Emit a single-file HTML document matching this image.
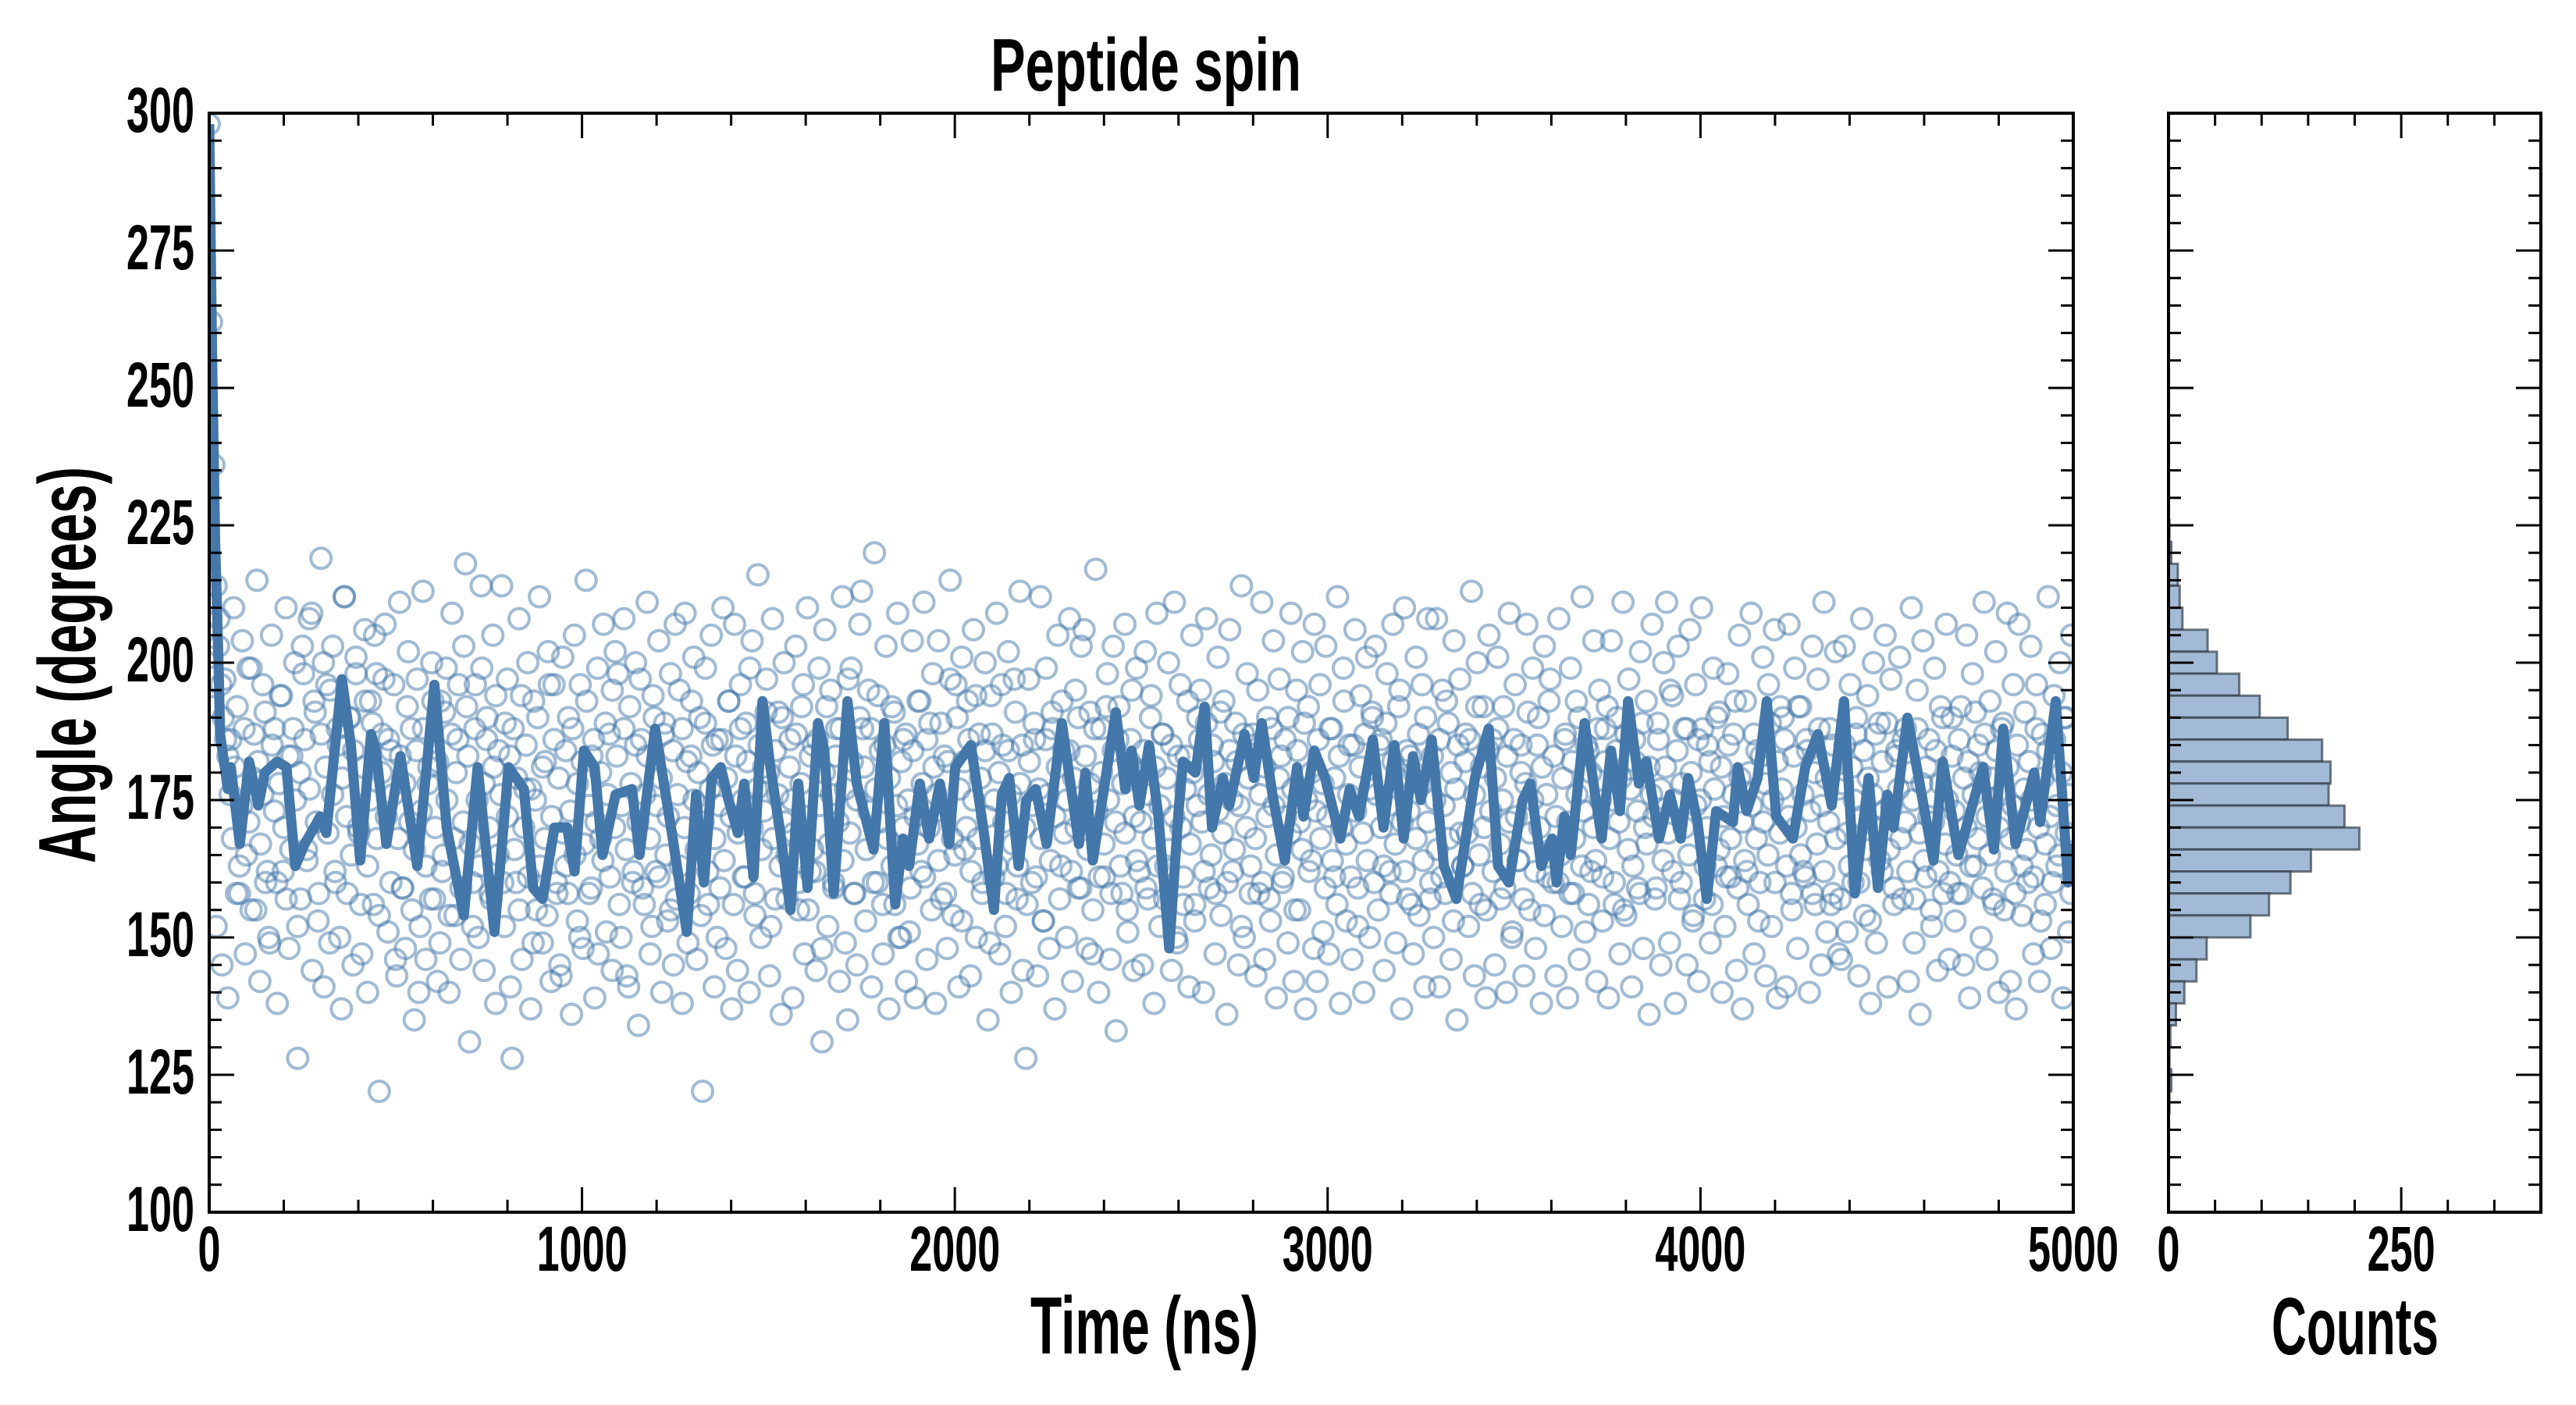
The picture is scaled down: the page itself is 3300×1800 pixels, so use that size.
<!DOCTYPE html>
<html><head><meta charset="utf-8"><style>
html,body{margin:0;padding:0;background:#fff;}
svg{display:block;}
text{font-family:"Liberation Sans Narrow","Liberation Sans",sans-serif;font-weight:bold;fill:#000;}
</style></head><body>
<svg id="chart" width="3300" height="1800" viewBox="0 0 3300 1800" xmlns="http://www.w3.org/2000/svg">
<rect width="3300" height="1800" fill="#fff"/>
<g id="main-marks"></g>
<g id="hist-marks"></g>
<g id="axes"></g>
<text x="1468" y="116" font-size="96" text-anchor="middle" textLength="398" lengthAdjust="spacingAndGlyphs">Peptide spin</text>
<text x="1466" y="1734" font-size="104" text-anchor="middle" textLength="292" lengthAdjust="spacingAndGlyphs">Time (ns)</text>
<text x="3017" y="1735" font-size="104" text-anchor="middle" textLength="214" lengthAdjust="spacingAndGlyphs">Counts</text>
<text x="0" y="0" font-size="104" text-anchor="middle" textLength="508" lengthAdjust="spacingAndGlyphs" transform="translate(122,852) rotate(-90)">Angle (degrees)</text>
</svg>
<script>
// ---- data ----
const scatterStep = 6.25;
const scatterValues = [
298,262,236,214,203,196,190,186,183,176,168,181,192,158,174,188,165,171,199,179,
155,182,167,176,191,162,149,185,173,160,178,194,170,157,183,166,188,175,152,180,
203,186,164,177,209,193,171,158,187,200,181,169,195,176,162,188,150,179,212,172,
190,165,184,198,170,156,181,193,163,175,189,205,168,154,180,197,172,186,160,176,
146,168,183,159,178,192,171,155,166,184,140,173,188,163,178,157,193,170,182,149,
162,191,175,154,187,168,180,196,159,171,218,183,167,152,188,175,163,199,178,186,
170,157,181,194,165,176,160,189,172,183,128,166,179,155,194,170,185,161,177,149,
175,190,163,181,168,154,196,172,186,160,179,143,169,184,158,173,188,165,178,150,
182,167,193,174,159,186,171,147,180,164,189,176,161,195,170,183,156,174,188,166,
141,178,162,185,171,197,159,176,183,168,152,190,174,161,179,187,165,172,155,184,
207,176,163,188,170,182,158,193,175,166,180,154,171,189,162,177,185,168,150,174,
186,164,179,193,172,156,183,169,188,175,161,182,199,170,158,177,185,166,173,191,
180,152,168,184,176,163,190,171,157,181,175,169,187,160,178,196,172,155,183,166,
162,186,174,148,180,192,167,176,159,183,171,188,164,177,135,169,182,158,175,190,
213,181,166,173,188,160,177,194,171,156,185,168,179,163,191,174,150,182,170,187,
175,159,184,172,167,193,178,161,186,170,155,181,176,164,189,173,158,182,197,168,
165,190,177,153,182,170,186,162,175,194,168,179,160,184,172,149,187,175,163,180,
196,171,158,184,176,167,191,163,178,185,170,156,182,174,189,161,177,168,153,186,
176,164,188,172,181,157,193,169,175,184,162,179,170,190,159,174,183,166,178,147,
188,173,161,180,167,192,175,158,184,171,186,163,178,169,155,182,195,172,164,180,
171,184,159,176,190,168,181,163,174,187,157,179,166,185,172,150,183,170,161,177,
193,167,180,156,174,186,171,162,189,176,165,182,158,173,191,169,178,160,184,175,
166,182,174,152,187,170,179,163,185,168,195,176,160,181,172,157,188,174,165,179,
183,161,172,190,169,177,155,184,171,166,189,175,162,180,148,173,186,168,178,159,
172,188,164,179,156,183,170,193,167,176,161,185,173,152,181,169,187,164,177,191,
160,176,185,170,163,189,174,158,182,167,179,195,171,162,184,173,156,180,168,187,
178,164,190,171,157,183,175,166,186,161,174,193,168,180,153,177,185,169,163,182,
169,186,158,176,192,165,181,170,155,184,173,162,179,188,167,175,159,183,171,150,
186,172,164,180,157,178,191,169,175,162,185,170,181,154,176,193,166,183,172,160,
165,179,187,171,158,182,168,176,190,163,173,185,156,180,170,164,188,175,161,182,
192,168,175,160,184,171,179,155,187,166,177,163,182,173,158,189,170,167,181,176,
172,159,186,177,164,181,169,195,162,175,184,157,178,170,188,165,180,154,174,186,
175,188,163,170,182,156,177,190,166,181,172,161,185,168,176,193,159,179,171,164,
162,180,174,187,168,153,183,171,178,165,189,175,160,182,169,177,186,163,172,158,
183,170,192,165,176,161,184,173,158,180,167,188,174,162,179,171,156,185,168,177,
157,178,185,169,163,181,175,190,160,172,184,166,179,153,176,187,170,164,182,173,
189,166,174,159,183,177,168,186,171,162,180,175,157,188,169,178,164,181,172,155,
171,184,162,178,190,167,175,160,183,173,165,186,158,179,170,182,163,176,191,168,
180,159,187,172,165,179,156,184,170,176,189,162,181,168,174,158,185,171,163,177,
166,182,175,161,188,170,153,179,167,184,172,160,186,174,165,180,190,169,176,158
];
const scatterStepB = 7.8125;
const scatterValuesB = [
201,192,152,208,145,197,139,186,210,158,163,204,147,199,155,187,215,142,196,160,
150,205,188,138,194,162,210,148,183,200,128,157,198,166,208,144,191,153,219,141,
196,149,203,160,185,137,212,158,190,145,201,169,147,206,140,193,156,198,122,187,
207,151,184,196,143,211,159,148,202,188,135,197,152,213,146,181,200,157,142,193,
165,199,140,209,154,186,146,203,192,131,160,196,150,214,144,190,158,205,138,184,
214,152,197,141,188,160,208,146,177,200,137,193,155,212,149,182,202,142,196,158,
145,201,163,190,136,205,153,196,148,215,158,183,139,199,168,207,151,187,144,202,
198,150,208,143,192,160,200,134,186,156,211,147,194,162,204,140,189,153,198,145,
157,195,138,209,149,183,201,146,190,122,199,156,205,141,186,159,210,148,193,137,
207,144,196,161,189,140,204,154,216,150,181,197,143,208,157,191,136,200,165,186,
139,203,155,192,147,210,162,185,144,199,131,206,152,195,160,188,142,212,149,197,
199,158,145,207,188,153,195,141,220,160,184,147,203,137,192,156,209,150,186,142,
151,204,139,193,162,211,146,189,198,138,204,157,183,148,215,154,196,141,201,166,
193,143,206,150,187,158,200,135,194,161,209,147,185,152,202,140,197,157,213,144,
128,197,160,186,143,212,153,199,148,191,137,205,163,184,150,208,142,195,159,203,
206,148,191,155,217,140,188,161,198,146,203,133,192,158,207,151,186,144,199,162,
145,202,157,194,138,209,152,187,163,200,144,211,149,196,156,183,141,205,153,190,
195,140,208,159,185,147,201,154,193,136,206,162,189,145,214,150,198,158,187,143,
158,211,146,190,153,204,139,197,160,186,149,209,142,195,155,202,137,192,164,207,
142,196,151,203,147,188,161,212,138,199,153,185,146,206,159,194,140,201,150,190,
203,155,186,144,198,162,207,149,192,137,210,157,183,147,201,154,196,141,208,160,
150,208,141,195,158,189,146,204,135,197,163,187,152,213,143,200,156,192,139,205,
186,145,201,157,192,140,209,151,196,164,185,143,207,155,199,148,190,138,203,161,
197,160,143,208,152,186,139,199,158,193,146,212,151,184,162,204,142,195,153,188,
139,204,156,190,147,211,154,197,141,186,159,202,148,193,136,207,157,189,145,200,
211,149,194,138,203,160,188,145,206,153,196,142,210,157,185,149,199,163,191,140,
152,198,161,187,144,205,137,193,156,209,147,184,160,201,143,196,152,206,139,192,
190,141,207,155,199,148,192,162,186,140,203,156,197,145,211,151,188,158,202,147,
146,203,151,196,160,187,143,208,154,194,138,200,149,189,162,205,141,197,156,184,
201,157,188,142,210,149,195,136,204,161,186,152,199,144,192,158,207,146,190,153,
158,192,145,205,139,198,163,185,150,211,146,193,157,202,140,188,155,209,142,196,
137,207,154,191,160,203,147,196,142,187,156,212,148,194,163,200,139,190,151,205
];
const lineTimes = [0,8,16,25,29,50,58,82,107,132,149,182,207,231,256,298,314,356,380,405,434,447,475,513,558,604,637,683,720,765,803,844,869,894,926,960,980,1005,1034,1055,1090,1134,1154,1196,1241,1281,1306,1327,1348,1372,1393,1418,1435,1460,1484,1505,1530,1559,1580,1605,1633,1650,1675,1712,1737,1782,1811,1840,1861,1877,1906,1931,1960,1985,2001,2043,2076,2105,2126,2146,2171,2192,2217,2246,2287,2333,2350,2370,2432,2457,2474,2495,2521,2546,2575,2600,2612,2645,2670,2690,2719,2736,2777,2802,2823,2852,2885,2918,2935,2964,2993,3034,3059,3084,3121,3150,3179,3204,3229,3250,3279,3312,3345,3395,3432,3457,3486,3523,3544,3573,3602,3614,3635,3652,3689,3735,3760,3784,3806,3835,3855,3889,3918,3947,3967,3992,4017,4042,4087,4100,4124,4153,4178,4203,4248,4281,4315,4352,4385,4414,4451,4476,4501,4518,4555,4580,4625,4650,4692,4721,4758,4787,4812,4845,4895,4911,4953,4986,5000];
const lineValues = [298,255,222,200,187,177,181,167,182,174,180,182,181,163,167,172,169,197,185,164,187,184,167,183,163,196,170,154,181,151,181,177,159,157,170,170,162,184,181,165,176,177,165,188,169,151,176,160,179,181,175,169,178,161,193,181,170,155,178,159,189,184,158,193,178,166,189,156,168,163,178,168,178,167,181,185,170,155,176,179,163,175,177,167,189,167,180,164,191,177,184,174,185,172,148,173,182,180,192,170,179,174,187,179,189,176,164,181,172,184,179,168,177,172,186,170,185,168,183,175,186,163,157,179,188,163,160,175,178,163,168,160,172,165,189,168,184,173,193,178,182,168,176,168,179,171,157,173,171,181,173,179,193,172,168,181,187,174,193,158,179,159,176,170,190,181,164,182,165,172,181,166,188,167,180,171,193,160,167];
const histEdges = [226,222,218,214,210,206,202,198,194,190,186,182,178,174,170,166,162,158,154,150,146,142,138,134,130,126,122,118];
const histCounts = [1,3,10,12,15,42,52,76,98,128,165,174,172,189,205,153,131,108,88,41,30,17,8,2,1,3,1];
const xTicks = [0,1000,2000,3000,4000,5000];
const yTicks = [100,125,150,175,200,225,250,275,300];
const histTicks = [0,250];

// ---- scales ----
const X0=268, X1=2656, Y0=1553, Y1=145;
const HX0=2778, HX1=3255;
const xs = t => X0 + (t-0)/(5000-0)*(X1-X0);
const ys = v => Y0 - (v-100)/(300-100)*(Y0-Y1);
const hs = c => HX0 + c/400*(HX1-HX0);
const NS='http://www.w3.org/2000/svg';
function mk(tag, attrs, parent){const e=document.createElementNS(NS,tag);for(const k in attrs)e.setAttribute(k,attrs[k]);parent.appendChild(e);return e;}

const main=document.getElementById('main-marks');
const clip=mk('clipPath',{id:'mclip'},main);
mk('rect',{x:X0,y:Y1,width:X1-X0,height:Y0-Y1},clip);
const sg=mk('g',{'clip-path':'url(#mclip)'},main);
scatterValues.forEach((v,i)=>{
  const c=mk('circle',{cx:xs(i*scatterStep),cy:ys(v),r:13,fill:'none',stroke:'#4477aa','stroke-width':4,'stroke-opacity':0.5},sg);
  
  
});
scatterValuesB.forEach((v,i)=>{
  const c=mk('circle',{cx:xs(3+i*scatterStepB),cy:ys(v),r:13,fill:'none',stroke:'#4477aa','stroke-width':4,'stroke-opacity':0.5},sg);
  
  
});
let d='';
lineTimes.forEach((t,i)=>{d+=(i?'L':'M')+xs(t).toFixed(1)+','+ys(lineValues[i]).toFixed(1);});
const ln=mk('path',{d:d,fill:'none',stroke:'#4477aa','stroke-width':13,'stroke-linejoin':'round'},sg);



const hist=document.getElementById('hist-marks');
histCounts.forEach((c,i)=>{
  const yTop=ys(histEdges[i]), yBot=ys(histEdges[i+1]);
  const r=mk('rect',{x:HX0,y:yTop,width:hs(c)-HX0,height:yBot-yTop,fill:'#a2bad5',stroke:'#2b3440','stroke-opacity':0.65,'stroke-width':3},hist);
  
  
});

// ---- axes ----
const ax=document.getElementById('axes');
function frame(x0,x1,name){
  const f=mk('rect',{x:x0,y:Y1,width:x1-x0,height:Y0-Y1,fill:'none',stroke:'#000','stroke-width':4},ax);
  
  
  for(let v=100;v<=300;v+=5){
    const y=ys(v), L=(v%25===0)?32:16;
    mk('line',{x1:x0,y1:y,x2:x0+L,y2:y,stroke:'#000','stroke-width':3},ax);
    mk('line',{x1:x1,y1:y,x2:x1-L,y2:y,stroke:'#000','stroke-width':3},ax);
  }
}
frame(X0,X1,'main-axes-frame');
frame(HX0,HX1,'histogram-axes-frame');
for(let t=0;t<=5000;t+=200){
  const x=xs(t),L=(t%1000===0)?32:16;
  mk('line',{x1:x,y1:Y0,x2:x,y2:Y0-L,stroke:'#000','stroke-width':3},ax);
  mk('line',{x1:x,y1:Y1,x2:x,y2:Y1+L,stroke:'#000','stroke-width':3},ax);
}
for(let c=0;c<=400;c+=50){
  const x=hs(c),L=(c%250===0)?32:16;
  mk('line',{x1:x,y1:Y0,x2:x,y2:Y0-L,stroke:'#000','stroke-width':3},ax);
  mk('line',{x1:x,y1:Y1,x2:x,y2:Y1+L,stroke:'#000','stroke-width':3},ax);
}
yTicks.forEach(v=>{
  const s=String(v);
  const t=mk('text',{x:249,y:ys(v)+24,'font-size':82,'text-anchor':'end',textLength:s.length*29,lengthAdjust:'spacingAndGlyphs'},ax);
  t.textContent=s;
  
  
});
xTicks.forEach(v=>{
  const s=String(v);
  const t=mk('text',{x:xs(v),y:1628,'font-size':82,'text-anchor':'middle',textLength:s.length*29,lengthAdjust:'spacingAndGlyphs'},ax);
  t.textContent=s;
  
  
});
histTicks.forEach(v=>{
  const s=String(v);
  const t=mk('text',{x:hs(v),y:1628,'font-size':82,'text-anchor':'middle',textLength:s.length*29,lengthAdjust:'spacingAndGlyphs'},ax);
  t.textContent=s;
  
  
});
</script>
</body></html>
